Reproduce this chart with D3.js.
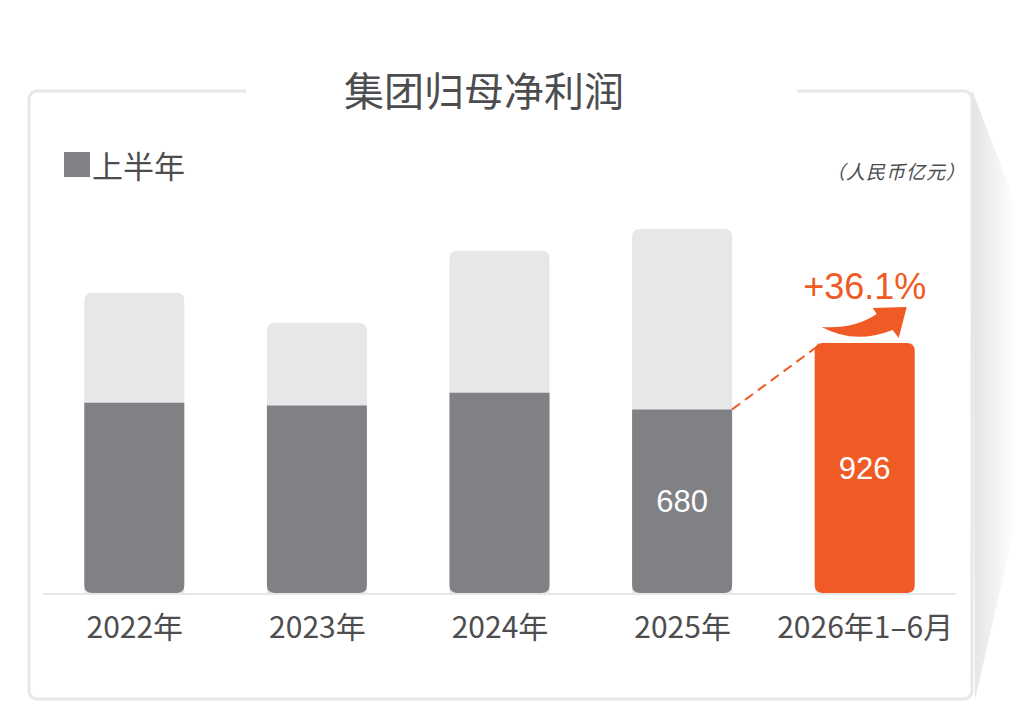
<!DOCTYPE html>
<html>
<head>
<meta charset="utf-8">
<script src="https://cdn.jsdelivr.net/npm/d3@7"></script>
<style>
  html, body { margin: 0; padding: 0; background: #fff; }
  svg { display: block; }
</style>
</head>
<body>
<svg id="chart" width="1016" height="718"></svg>
<script>
// dados (亿元)
const categories = ["2022年", "2023年", "2024年", "2025年", "2026年1–6月"];
const fullYear = [1112, 1001, 1268, 1348, null];
const firstHalf = [705, 694, 742, 680, 926];
const valueLabels = ["", "", "", "680", "926"];
const growthLabel = "+36.1%";
const title = "集团归母净利润";
const legendLabel = "上半年";
const unitLabel = "（人民币亿元）";

const W = 1016, H = 718;
const svg = d3.select("#chart");
const cjk = "'Noto Sans CJK SC', 'Noto Sans', sans-serif";
const textColor = "#4d4d4f";
const lightGray = "#e6e7e8";
const darkGray = "#808184";
const orange = "#f05a24";

// Sombra lateral direita
const defs = svg.append("defs");
const grad = defs.append("linearGradient").attr("id", "shade")
    .attr("x1", "0").attr("x2", "1").attr("y1", "0").attr("y2", "0");
grad.append("stop").attr("offset", "0").attr("stop-color", "#e3e4e6");
grad.append("stop").attr("offset", "1").attr("stop-color", "#ffffff");
svg.append("path")
    .attr("d", "M972,90 L1016,205 L1016,520 L975,700 Z")
    .attr("fill", "url(#shade)");

// Cartão
svg.append("rect")
    .attr("x", 29).attr("y", 91)
    .attr("width", 943).attr("height", 608)
    .attr("rx", 8)
    .attr("fill", "#fff")
    .attr("stroke", lightGray)
    .attr("stroke-width", 3);
// abertura para o título
svg.append("rect")
    .attr("x", 246).attr("y", 85)
    .attr("width", 551).attr("height", 12)
    .attr("fill", "#fff");

svg.append("text")
    .attr("x", 484).attr("y", 89)
    .attr("text-anchor", "middle")
    .attr("dominant-baseline", "central")
    .attr("font-family", cjk)
    .attr("font-size", 40)
    .attr("fill", textColor)
    .text(title);

// Legenda
svg.append("rect")
    .attr("x", 64).attr("y", 152)
    .attr("width", 26).attr("height", 25)
    .attr("fill", darkGray);
svg.append("text")
    .attr("x", 92).attr("y", 164)
    .attr("dominant-baseline", "central")
    .attr("font-family", cjk)
    .attr("font-size", 31)
    .attr("fill", textColor)
    .text(legendLabel);

svg.append("text")
    .attr("x", 966).attr("y", 170)
    .attr("text-anchor", "end")
    .attr("dominant-baseline", "central")
    .attr("font-family", cjk)
    .attr("font-size", 19)
    .attr("letter-spacing", 1)
    .attr("font-style", "italic")
    .attr("fill", textColor)
    .text(unitLabel);

// Escalas
const baseY = 593;
const x = d3.scalePoint()
    .domain(categories)
    .range([43, 956])
    .padding(0.5);
const y = d3.scaleLinear()
    .domain([0, 1000])
    .range([baseY, baseY - 270]);
const barW = 100;
const r = 8;

// retângulo com cantos arredondados só em cima / só em baixo / ambos
function roundedBar(x0, y0, w, h, top, bottom) {
    const rt = top ? Math.min(r, h / 2) : 0;
    const rb = bottom ? Math.min(r, h / 2) : 0;
    return `M${x0},${y0 + rt}` +
        (rt ? `Q${x0},${y0} ${x0 + rt},${y0}` : "") +
        `L${x0 + w - rt},${y0}` +
        (rt ? `Q${x0 + w},${y0} ${x0 + w},${y0 + rt}` : "") +
        `L${x0 + w},${y0 + h - rb}` +
        (rb ? `Q${x0 + w},${y0 + h} ${x0 + w - rb},${y0 + h}` : "") +
        `L${x0 + rb},${y0 + h}` +
        (rb ? `Q${x0},${y0 + h} ${x0},${y0 + h - rb}` : "") + "Z";
}

const bars = svg.append("g");
categories.forEach((c, i) => {
    const cx = x(c);
    const isLast = i === categories.length - 1;
    if (fullYear[i] != null) {
        bars.append("path")
            .attr("d", roundedBar(cx - barW / 2, y(fullYear[i]), barW, baseY - y(fullYear[i]), true, false))
            .attr("fill", lightGray);
    }
    bars.append("path")
        .attr("d", roundedBar(cx - barW / 2, y(firstHalf[i]), barW, baseY - y(firstHalf[i]), isLast, true))
        .attr("fill", isLast ? orange : darkGray);
    if (valueLabels[i]) {
        const yTop = y(firstHalf[i]);
        bars.append("text")
            .attr("x", cx)
            .attr("y", isLast ? yTop + 126 : yTop + 92)
            .attr("text-anchor", "middle")
            .attr("dominant-baseline", "central")
            .attr("font-family", "'Liberation Sans', Arial, sans-serif")
            .attr("font-size", 31)
            .attr("fill", "#fff")
            .text(valueLabels[i]);
    }
});

// Eixo
const xAxis = svg.append("g")
    .attr("transform", `translate(0,${baseY + 1})`)
    .call(d3.axisBottom(x).tickSize(0).tickPadding(41));
xAxis.select(".domain")
    .attr("d", "M43,0H956")
    .attr("stroke", lightGray)
    .attr("stroke-width", 2);
xAxis.selectAll("text")
    .attr("font-family", cjk)
    .attr("font-size", 30)
    .attr("fill", textColor)
    .attr("dy", "0.1em");

// Linha tracejada entre 2025 e 2026
const n = categories.length;
const x25 = x(categories[n - 2]) + barW / 2;
const x26 = x(categories[n - 1]) - barW / 2;
svg.append("line")
    .attr("x1", x25).attr("y1", y(firstHalf[n - 2]))
    .attr("x2", x26 + 2).attr("y2", y(firstHalf[n - 1]) + 4)
    .attr("stroke", orange)
    .attr("stroke-width", 2)
    .attr("stroke-dasharray", "10,6");

// Seta curva
const ax = x(categories[n - 1]);
const ay = y(firstHalf[n - 1]);
svg.append("path")
    .attr("d", `M${ax - 43},${ay - 16}` +
        `Q${ax - 10},${ay - 14} ${ax + 12},${ay - 29}` +
        `L${ax + 8},${ay - 35}` +
        `L${ax + 42},${ay - 36}` +
        `L${ax + 34},${ay - 5}` +
        `L${ax + 28},${ay - 13}` +
        `Q${ax - 10},${ay + 2} ${ax - 43},${ay - 16}Z`)
    .attr("fill", orange);

svg.append("text")
    .attr("x", ax)
    .attr("y", ay - 56)
    .attr("text-anchor", "middle")
    .attr("dominant-baseline", "central")
    .attr("font-family", "'Liberation Sans', Arial, sans-serif")
    .attr("font-size", 36)
    .attr("fill", orange)
    .text(growthLabel);
</script>
</body>
</html>
